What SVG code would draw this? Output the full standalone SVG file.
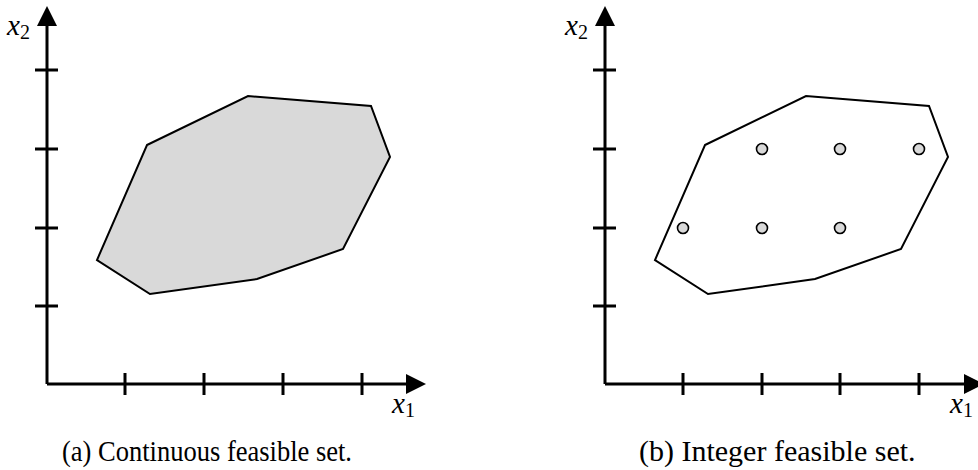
<svg xmlns="http://www.w3.org/2000/svg" width="978" height="470" viewBox="0 0 978 470">
<style>
.ax{stroke:#000;stroke-width:3;fill:none}
.tk{stroke:#000;stroke-width:3}
.poly{stroke:#000;stroke-width:2;stroke-linejoin:miter}
.pt{fill:#d9d9d9;stroke:#000;stroke-width:1.6}
.lbl{font-family:'Liberation Serif',serif;font-style:italic;font-size:29px;fill:#000}
.sub{font-style:normal;font-size:20px}
.cap{font-family:'Liberation Serif',serif;font-size:30px;fill:#000}
</style>
<defs>
<marker id="ah" viewBox="0 0 20 20" refX="0" refY="10" markerWidth="20" markerHeight="20" markerUnits="userSpaceOnUse" orient="auto">
<path d="M0,0 L20,10 L0,20 Z" fill="#000"/>
</marker>
</defs>
<g id="panel-a">
<g id="shape-a">
<polygon class="poly" fill="#d9d9d9" points="147,145 248,96 371,106 390,157 343,249 257,279 150,294 97,260"/>
</g>
<g id="axes-a">
<path class="ax" d="M47,384 V26" marker-end="url(#ah)"/>
<path class="ax" d="M47,384 H406" marker-end="url(#ah)"/>
<path class="tk" d="M125,373V395M204,373V395M283,373V395M362,373V395M35,306H58M35,228H58M35,149H58M35,70H58"/>
</g>
<text class="lbl" x="7" y="35">x<tspan class="sub" dy="4">2</tspan></text>
<text class="lbl" x="392" y="413">x<tspan class="sub" dy="4">1</tspan></text>
<text class="cap" x="62" y="461" textLength="290" lengthAdjust="spacingAndGlyphs">(a) Continuous feasible set.</text>
</g>
<g id="panel-b">
<g id="shape-b">
<polygon class="poly" fill="none" points="705,145 806,96 929,106 948,157 901,249 815,279 708,294 655,260"/>
</g>
<g id="points-b">
<circle class="pt" cx="683" cy="228" r="5.5"/>
<circle class="pt" cx="762" cy="228" r="5.5"/>
<circle class="pt" cx="840" cy="228" r="5.5"/>
<circle class="pt" cx="762" cy="149" r="5.5"/>
<circle class="pt" cx="840" cy="149" r="5.5"/>
<circle class="pt" cx="919" cy="149" r="5.5"/>
</g>
<g id="axes-b">
<path class="ax" d="M605,384 V26" marker-end="url(#ah)"/>
<path class="ax" d="M605,384 H964" marker-end="url(#ah)"/>
<path class="tk" d="M683,373V395M762,373V395M840,373V395M919,373V395M593,306H616M593,228H616M593,149H616M593,70H616"/>
</g>
<text class="lbl" x="565" y="35">x<tspan class="sub" dy="4">2</tspan></text>
<text class="lbl" x="950" y="413">x<tspan class="sub" dy="4">1</tspan></text>
<text class="cap" x="639" y="461">(b) Integer feasible set.</text>
</g>
</svg>
